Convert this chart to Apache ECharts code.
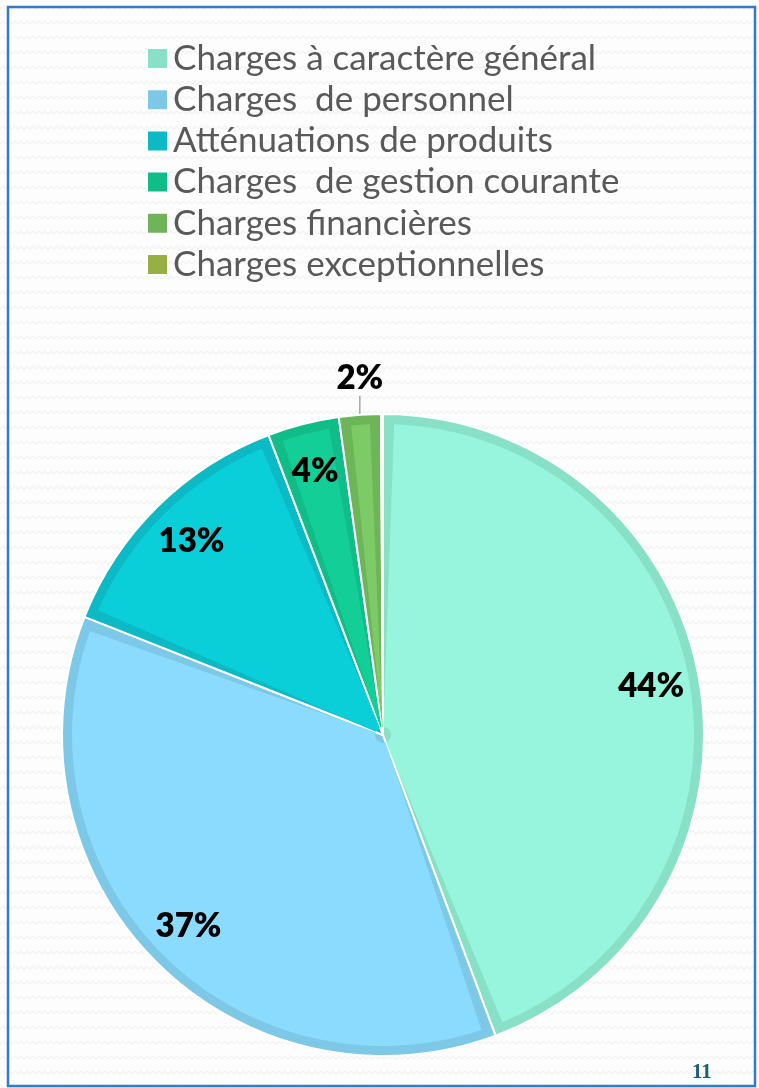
<!DOCTYPE html>
<html>
<head>
<meta charset="utf-8">
<script src="https://cdn.jsdelivr.net/npm/echarts@6/dist/echarts.min.js"></script>
<style>
  html, body { margin: 0; padding: 0; }
  body {
    width: 759px; height: 1088px; background-color: #fdfdfd;
    background-image: url("data:image/svg+xml;utf8,<svg xmlns='http://www.w3.org/2000/svg' width='12' height='15'><polyline points='0,9 3,6 6,9 9,6 12,9' fill='none' stroke='%23f1f1f1' stroke-width='1.2'/></svg>");
  }
  #main { width: 759px; height: 1088px; }
</style>
</head>
<body>
<div id="main"></div>
<script>
// postes de dépenses
var categories = ['Charges à caractère général', 'Charges  de personnel', 'Atténuations de produits',
  'Charges  de gestion courante', 'Charges financières', 'Charges exceptionnelles'];
var values = [44.3, 36.7, 13.2, 3.6, 2.1, 0.1]; // en %
var pageNumber = '11';

var borderColors = ['#88E0C6', '#7EC8E7', '#0BBAC5', '#10BC88', '#6EB55A', '#97B046'];
var fillColors = ['#96F5DC', '#8ADBFE', '#0BCFD8', '#14CE98', '#7DCB66', '#A6C24E'];
var clear = 'rgba(0,0,0,0)';

var chart = echarts.init(document.getElementById('main'), null, { renderer: 'canvas' });
var center = [383, 735];
var R = 321;
var gap = 0.57; // demi-bordure, en unités de valeur

function darkData() {
  return categories.map(function (c, i) {
    return { name: c, value: values[i], itemStyle: { color: borderColors[i] } };
  });
}

// remplissage clair, rétréci de chaque côté pour laisser voir la bordure foncée
function fillData() {
  var list = [];
  for (var i = 0; i < categories.length; i++) {
    var s = Math.min(gap, values[i] / 2);
    list.push({ name: '', value: s, itemStyle: { color: clear } });
    list.push({ name: categories[i], value: values[i] - 2 * s, itemStyle: { color: fillColors[i] } });
    list.push({ name: '', value: s, itemStyle: { color: clear } });
  }
  return list;
}

function labelData() {
  return categories.map(function (c, i) {
    var d = { name: c, value: values[i] };
    if (i === 4) {
      d.label = { position: 'outside' };
      d.labelLine = { show: true, length: 20, length2: 0, lineStyle: { color: '#A6A6A6', width: 1.5 } };
    } else if (i === 5) {
      d.label = { show: false };
    }
    return d;
  });
}

var option = {
  backgroundColor: 'transparent',
  animation: false,
  legend: {
    orient: 'vertical',
    left: 146,
    top: 41,
    padding: 0,
    icon: 'rect',
    itemWidth: 21,
    itemHeight: 21,
    itemGap: 6.2,
    data: categories,
    textStyle: { fontFamily: 'Lato', fontSize: 35, color: '#595959', lineHeight: 34 }
  },
  graphic: [
    { type: 'rect', shape: { x: 8, y: 7, width: 747, height: 1079 }, style: { fill: 'none', stroke: '#2E7BCF', lineWidth: 2.5 }, silent: true },
    { type: 'text', left: 692, top: 1062, style: { text: pageNumber, font: 'bold 21px "Liberation Serif"', fill: '#1F5F73' }, silent: true }
  ],
  series: [
    { // bord foncé
      type: 'pie', center: center, radius: [0, R], startAngle: 90, clockwise: true,
      label: { show: false }, labelLine: { show: false }, silent: true,
      itemStyle: { borderColor: '#fff', borderWidth: 2 },
      data: darkData()
    },
    { // remplissage clair
      type: 'pie', center: center, radius: [8, R - 10], startAngle: 90, clockwise: true,
      label: { show: false }, labelLine: { show: false }, silent: true,
      data: fillData()
    },
    { // étiquettes
      type: 'pie', center: center, radius: [218, R], startAngle: 90, clockwise: true,
      silent: true, percentPrecision: 0,
      itemStyle: { color: clear },
      label: { show: true, position: 'inside', formatter: '{d}%', fontFamily: 'Lato', fontWeight: 800, fontSize: 33, color: '#000' },
      labelLine: { show: false },
      labelLayout: function (p) {
        if (p.dataIndex !== 4 || !p.labelLinePoints) return {};
        var rim = p.labelLinePoints[0];
        var top = [rim[0], rim[1] - 19];
        return { x: rim[0], y: rim[1] - 20, align: 'center', verticalAlign: 'bottom', labelLinePoints: [rim, top, top] };
      },
      data: labelData()
    }
  ]
};
chart.setOption(option);
</script>
</body>
</html>
